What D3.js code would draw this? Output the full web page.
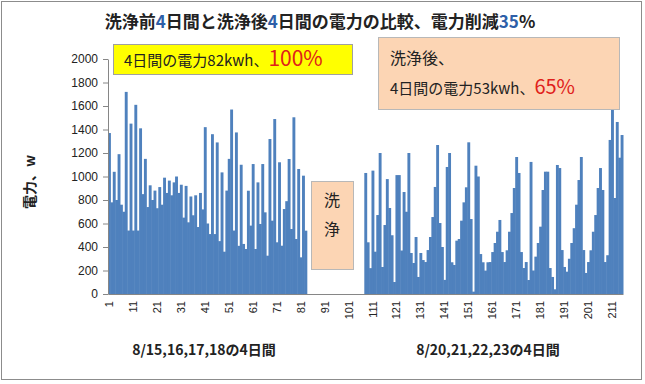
<!DOCTYPE html>
<html>
<head>
<meta charset="utf-8">
<script src="https://cdn.jsdelivr.net/npm/d3@7"></script>
<style>
    body { margin: 0; background: #fff; }
    svg text { font-family: "Noto Sans CJK JP", "Noto Sans", sans-serif; }
    .axis text { font-family: "Liberation Sans", "DejaVu Sans", sans-serif; font-size: 12px; fill: #222; }
    .axis path, .axis line { stroke: #868686; }
</style>
</head>
<body>
<svg id="chart" width="645" height="384"></svg>
<script>
// ------- DATA -------
// one bar per reading, numbered 1..215 along the category axis
var dayCount = 215;

// readings before cleaning start at slot 1, after cleaning at slot 108
var beforeStart = 1;
var powerBefore = [
    1370, 780, 1040, 800, 1190, 760, 700, 1720, 540, 1450,
    540, 1610, 540, 1410, 850, 1150, 740, 925, 800, 880,
    730, 910, 760, 990, 860, 965, 840, 950, 1000, 860,
    930, 650, 920, 610, 830, 670, 840, 570, 860, 720,
    1420, 600, 510, 1360, 510, 1290, 450, 1035, 360, 880,
    1150, 1570, 540, 1375, 410, 1100, 426, 383, 879, 582,
    1106, 383, 950, 596, 1106, 695, 326, 1319, 624, 1489,
    440, 1121, 411, 723, 790, 1149, 553, 1504, 468, 1064,
    312, 1007, 539
];

var afterStart = 108;
var powerAfter = [
    1030, 440, 220, 1050, 360, 672, 1200, 230, 587, 978,
    732, 500, 102, 1012, 1012, 370, 868, 700, 1200, 349,
    264, 485, 145, 349, 289, 272, 374, 485, 655, 911,
    1268, 604, 400, 120, 1081, 1200, 270, 247, 454, 468,
    624, 780, 908, 1291, 638, 20, 1092, 1000, 340, 270,
    199, 270, 272, 357, 434, 530, 630, 357, 272, 372,
    530, 689, 902, 1166, 1030, 357, 221, 272, 119, 1124,
    200, 318, 434, 573, 885, 1041, 1041, 221, 145, 40,
    1098, 1072, 374, 230, 190, 300, 434, 560, 760, 970,
    1166, 374, 179, 272, 372, 530, 672, 902, 1072, 885,
    272, 330, 1311, 1566, 817, 1464, 1160, 1353
];

var yTicks = [0, 200, 400, 600, 800, 1000, 1200, 1400, 1600, 1800, 2000];
var xTicks = [1, 11, 21, 31, 41, 51, 61, 71, 81, 91, 101, 111, 121, 131, 141, 151, 161, 171, 181, 191, 201, 211];

drawPowerChart();

function drawPowerChart() {
    // constant margins, width, and height
    var margin = {top: 59, right: 22, bottom: 90, left: 108};
    var width = 645 - margin.left - margin.right;
    var height = 384 - margin.top - margin.bottom;

    var svg = d3.select("#chart");

    // outer frame
    svg.append("rect")
        .attr("x", 1.5)
        .attr("y", 1.5)
        .attr("width", 640)
        .attr("height", 378)
        .attr("fill", "#fff")
        .attr("stroke", "#8c8c8c");

    // title, digits in blue
    var title = svg.append("text")
        .attr("x", 320)
        .attr("y", 28)
        .attr("text-anchor", "middle")
        .style("font-size", "17px")
        .style("font-weight", "bold")
        .attr("fill", "#222");
    [["洗浄前", "#222"], ["4", "#2e5fa8"], ["日間と洗浄後", "#222"], ["4", "#2e5fa8"],
     ["日間の電力の比較、電力削減", "#222"], ["35", "#2e5fa8"], ["%", "#222"]].forEach(function(p) {
        title.append("tspan").attr("fill", p[1]).text(p[0]);
    });

    // set up our scales
    var x = d3.scaleBand()
        .domain(d3.range(1, dayCount + 1))
        .range([0, width])
        .padding(0);
    var y = d3.scaleLinear().domain([0, 2000]).range([height, 0]);

    var g = svg.append("g")
        .attr("transform", `translate(${margin.left}, ${margin.top})`);

    // join both periods into one list of bars
    var bars = powerBefore.map((v, i) => ({day: beforeStart + i, value: v}))
        .concat(powerAfter.map((v, i) => ({day: afterStart + i, value: v})));

    // bars overlap a little so the blue reads as one solid mass
    g.append("g")
        .selectAll("rect")
        .data(bars)
        .enter()
        .append("rect")
        .attr("fill", "#4f81bd")
        .attr("x", d => x(d.day))
        .attr("y", d => y(d.value))
        .attr("width", x.bandwidth() + 0.5)
        .attr("height", d => height - y(d.value));

    // y axis
    g.append("g")
        .attr("class", "axis")
        .call(d3.axisLeft(y).tickValues(yTicks).tickFormat(d3.format("d"))
            .tickSize(5).tickPadding(5).tickSizeOuter(0));

    // x axis with rotated labels
    var xAxis = g.append("g")
        .attr("class", "axis")
        .attr("transform", `translate(0, ${height})`)
        .call(d3.axisBottom(x).tickValues(xTicks).tickSize(0).tickSizeOuter(0));
    xAxis.selectAll("text")
        .attr("transform", "rotate(-90)")
        .attr("text-anchor", "end")
        .attr("x", -7)
        .attr("y", 0)
        .attr("dy", "0.35em")
        .style("font-size", "11px");

    // y axis title
    svg.append("text")
        .attr("transform", "translate(35, 182) rotate(-90)")
        .attr("text-anchor", "middle")
        .style("font-size", "14px")
        .style("font-weight", "bold")
        .attr("fill", "#222")
        .text("電力、w");

    // period labels under the axis
    svg.append("text")
        .attr("x", 204)
        .attr("y", 355)
        .attr("text-anchor", "middle")
        .style("font-size", "14px")
        .style("font-weight", "bold")
        .attr("fill", "#222")
        .text("8/15,16,17,18の4日間");
    svg.append("text")
        .attr("x", 488)
        .attr("y", 355)
        .attr("text-anchor", "middle")
        .style("font-size", "14px")
        .style("font-weight", "bold")
        .attr("fill", "#222")
        .text("8/20,21,22,23の4日間");

    // ------- NOTE BOXES -------
    // before cleaning (yellow)
    svg.append("rect")
        .attr("x", 113.5).attr("y", 44.5)
        .attr("width", 239).attr("height", 30)
        .attr("fill", "#ffff00").attr("stroke", "#a0a0a0");
    var t1 = svg.append("text")
        .attr("x", 124).attr("y", 66)
        .style("font-size", "15px")
        .attr("fill", "#222");
    t1.append("tspan").text("4日間の電力82kwh、");
    t1.append("tspan").attr("fill", "#e0201a").style("font-size", "21px").text("100%");

    // after cleaning (peach)
    svg.append("rect")
        .attr("x", 378.5).attr("y", 37.5)
        .attr("width", 241).attr("height", 72)
        .attr("fill", "#fcd5b4").attr("stroke", "#b8b8b8");
    svg.append("text")
        .attr("x", 390).attr("y", 64)
        .style("font-size", "16px")
        .attr("fill", "#222")
        .text("洗浄後、");
    var t2 = svg.append("text")
        .attr("x", 390).attr("y", 94)
        .style("font-size", "15px")
        .attr("fill", "#222");
    t2.append("tspan").text("4日間の電力53kwh、");
    t2.append("tspan").attr("fill", "#e0201a").style("font-size", "20px").text("65%");

    // cleaning gap marker
    svg.append("rect")
        .attr("x", 311.5).attr("y", 181.5)
        .attr("width", 42).attr("height", 88)
        .attr("fill", "#fcd5b4").attr("stroke", "#b8b8b8");
    svg.append("text")
        .attr("x", 332).attr("y", 206)
        .attr("text-anchor", "middle")
        .style("font-size", "16px")
        .attr("fill", "#222")
        .text("洗");
    svg.append("text")
        .attr("x", 332).attr("y", 235)
        .attr("text-anchor", "middle")
        .style("font-size", "16px")
        .attr("fill", "#222")
        .text("浄");
}
</script>
</body>
</html>
